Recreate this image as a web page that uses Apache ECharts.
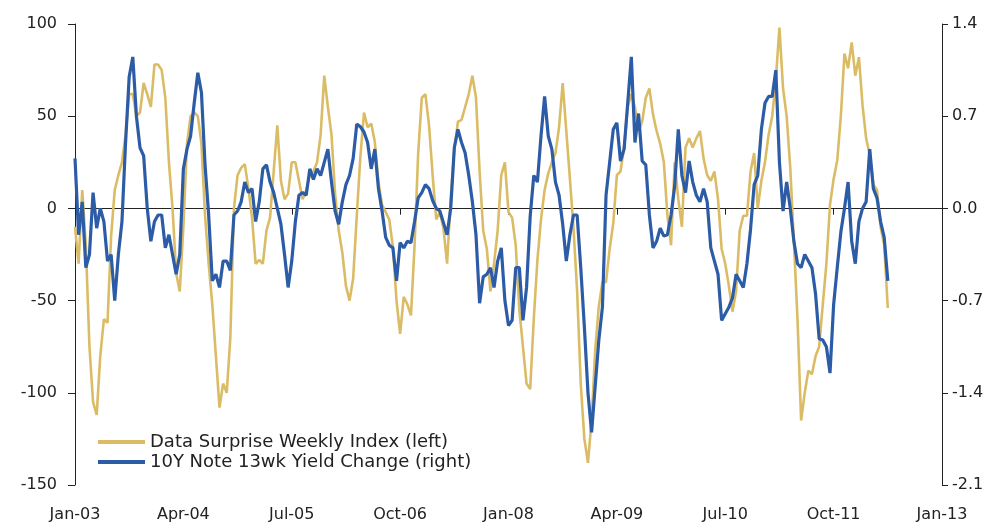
<!DOCTYPE html>
<html>
<head>
<meta charset="utf-8">
<script src="https://cdn.jsdelivr.net/npm/echarts@6/dist/echarts.min.js"></script>
<style>
  html, body { margin: 0; padding: 0; background: #fff; }
  #chart { width: 994px; height: 528px; }
</style>
</head>
<body>
<div id="chart"></div>
<script>
// x axis: months since Jan-03, one reading every half month
var tickLabels = ['Jan-03', 'Apr-04', 'Jul-05', 'Oct-06', 'Jan-08', 'Apr-09', 'Jul-10', 'Oct-11', 'Jan-13'];
var stepMonths = 0.5;

// Data Surprise Weekly Index (left axis)
var surprise = [
  -10, -30, 10, -20, -75, -105, -112, -80, -60, -62, -15, 10,          // 2003
  18, 25, 40, 62, 62, 50, 52, 68, 62, 55, 78, 78,
  75, 60, 25, 0, -35, -45, -10, 35, 50, 52, 50, 35,                    // 2004
  -4, -30, -52, -80, -108, -95, -100, -70, 0, 18, 22, 24,
  11, -5, -30, -28, -30, -12, -5, 20, 45, 15, 5, 8,                    // 2005
  25, 25, 15, 5, 10, 18, 20, 25, 40, 72, 55, 40,
  8, -12, -24, -42, -50, -38, -4, 28, 52, 44, 46, 36,                  // 2006
  14, 2, -2, -6, -21, -50, -68, -48, -52, -58, -20, 30,
  60, 62, 45, 18, -6, -2, -11, -30, 5, 32, 47, 48,                     // 2007
  55, 62, 72, 60, 20, -12, -22, -45, -30, -12, 18, 25,
  -2, -5, -20, -55, -75, -95, -98, -60, -28, -6, 10, 19,               // 2008
  25, 30, 44, 68, 42, 16, -11, -45, -95, -125, -138, -115,
  -77, -53, -40, -40, -22, -8, 18, 20, 33, 55, 62, 55,                 // 2009
  42, 47, 60, 65, 51, 42, 35, 25, -4, -20, 25, 5,
  -10, 33, 38, 33, 38, 42, 27, 18, 15, 20, 5, -22,                     // 2010
  -30, -42, -56, -45, -12, -4, -4, 20, 30, 0, 15, 25,
  40, 50, 70, 98, 65, 50, 22, -18, -60, -115, -100, -88,               // 2011
  -90, -80, -75, -52, -30, 2, 16, 26, 50, 84, 76, 90,
  72, 82, 56, 38, 29, 13, 10, -10, -20, -54                            // 2012
];

// 10Y Note 13wk Yield Change (right axis)
var yieldChange = [
  0.38, -0.2, 0.05, -0.45, -0.35, 0.12, -0.15, 0.0, -0.1, -0.4, -0.35, -0.7,
  -0.35, -0.1, 0.5, 1.0, 1.15, 0.7, 0.46, 0.4, 0.0, -0.25, -0.1, -0.05,
  -0.05, -0.3, -0.2, -0.35, -0.5, -0.35, 0.3, 0.45, 0.55, 0.8, 1.03, 0.88,
  0.33, -0.05, -0.55, -0.5, -0.6, -0.4, -0.4, -0.47, -0.05, -0.02, 0.05, 0.2,
  0.12, 0.15, -0.1, 0.05, 0.3, 0.33, 0.2, 0.12, 0.0, -0.12, -0.35, -0.6,
  -0.4, -0.1, 0.1, 0.12, 0.1, 0.3, 0.22, 0.3, 0.25, 0.35, 0.45, 0.2,
  -0.02, -0.12, 0.05, 0.18, 0.25, 0.38, 0.64, 0.62, 0.58, 0.5, 0.3, 0.45,
  0.15, -0.02, -0.22, -0.28, -0.3, -0.55, -0.26, -0.3, -0.25, -0.26, -0.1, 0.08,
  0.12, 0.18, 0.15, 0.06, 0.0, -0.02, -0.11, -0.2, 0.0, 0.46, 0.6, 0.5,
  0.42, 0.25, 0.05, -0.2, -0.72, -0.52, -0.5, -0.45, -0.6, -0.4, -0.3, -0.7,
  -0.89, -0.85, -0.45, -0.45, -0.85, -0.6, -0.06, 0.25, 0.2, 0.55, 0.85, 0.55,
  0.45, 0.2, 0.1, -0.12, -0.4, -0.2, -0.05, -0.05, -0.45, -0.9, -1.4, -1.7,
  -1.35, -1.0, -0.75, 0.1, 0.35, 0.6, 0.65, 0.36, 0.45, 0.8, 1.15, 0.5,
  0.72, 0.36, 0.33, -0.05, -0.3, -0.25, -0.15, -0.21, -0.2, -0.05, 0.17, 0.6,
  0.25, 0.12, 0.36, 0.2, 0.1, 0.05, 0.15, 0.05, -0.3, -0.4, -0.5, -0.85,
  -0.8, -0.75, -0.68, -0.5, -0.55, -0.6, -0.42, -0.16, 0.18, 0.25, 0.6, 0.8,
  0.85, 0.85, 1.05, 0.35, -0.02, 0.2, 0.0, -0.25, -0.42, -0.45, -0.35, -0.4,
  -0.45, -0.65, -0.99, -1.0, -1.05, -1.25, -0.73, -0.45, -0.18, 0.0, 0.2, -0.25,
  -0.42, -0.1, 0.0, 0.05, 0.45, 0.15, 0.08, -0.1, -0.22, -0.55
];

var leftTicks = { min: -150, max: 100, interval: 50 };
var rightTicks = { min: -2.1, max: 1.4, interval: 0.7 };

function pairs(arr) {
    return arr.map(function (v, i) { return [i * stepMonths, v]; });
}

var font = 'DejaVu Sans';
var ink = '#222';

var chart = echarts.init(document.getElementById('chart'));
var option = {
    backgroundColor: '#fff',
    animation: false,
    grid: { left: 75, right: 52, top: 24, bottom: 43 },
    legend: {
        orient: 'vertical',
        left: 93,
        top: 428,
        itemWidth: 47,
        itemHeight: 4,
        itemGap: 2,
        icon: 'rect',
        textStyle: { fontFamily: font, fontSize: 18, color: ink },
        data: ['Data Surprise Weekly Index (left)', '10Y Note 13wk Yield Change (right)']
    },
    xAxis: [
        {   // labels along the bottom
            type: 'value', min: 0, max: 120, interval: 15, position: 'bottom',
            axisLine: { show: false, onZero: false },
            axisTick: { show: false },
            splitLine: { show: false },
            axisLabel: {
                margin: 22, fontFamily: font, fontSize: 16, color: ink,
                formatter: function (v) { return tickLabels[Math.round(v / 15)]; }
            }
        },
        {   // zero line, ticks below
            type: 'value', min: 0, max: 120, interval: 15, position: 'bottom',
            axisLine: { show: true, onZero: true, onZeroAxisIndex: 0, lineStyle: { color: ink, width: 1 } },
            axisTick: { show: true, inside: false, length: 6, lineStyle: { color: ink } },
            axisLabel: { show: false },
            splitLine: { show: false }
        },
        {   // zero line, ticks above
            type: 'value', min: 0, max: 120, interval: 15, position: 'top',
            axisLine: { show: true, onZero: true, onZeroAxisIndex: 0, lineStyle: { color: ink, width: 1 } },
            axisTick: { show: true, inside: true, length: 6, lineStyle: { color: ink } },
            axisLabel: { show: false },
            splitLine: { show: false }
        }
    ],
    yAxis: [
        {
            type: 'value', position: 'left',
            min: leftTicks.min, max: leftTicks.max, interval: leftTicks.interval,
            axisLine: { show: true, onZero: false, lineStyle: { color: ink, width: 1 } },
            axisTick: { show: true, length: 7, lineStyle: { color: ink } },
            splitLine: { show: false },
            axisLabel: { margin: 18, fontFamily: font, fontSize: 16, color: ink }
        },
        {
            type: 'value', position: 'right',
            min: rightTicks.min, max: rightTicks.max, interval: rightTicks.interval,
            axisLine: { show: true, onZero: false, lineStyle: { color: ink, width: 1 } },
            axisTick: { show: true, length: 6, lineStyle: { color: ink } },
            splitLine: { show: false },
            axisLabel: {
                margin: 10, fontFamily: font, fontSize: 16, color: ink,
                formatter: function (v) { return v.toFixed(1); }
            }
        }
    ],
    series: [
        {
            name: 'Data Surprise Weekly Index (left)',
            type: 'line',
            xAxisIndex: 0, yAxisIndex: 0,
            showSymbol: false,
            color: '#DBBC66',
            lineStyle: { width: 2.6, color: '#DBBC66' },
            data: pairs(surprise)
        },
        {
            name: '10Y Note 13wk Yield Change (right)',
            type: 'line',
            xAxisIndex: 0, yAxisIndex: 1,
            showSymbol: false,
            color: '#2D5CA6',
            lineStyle: { width: 3.2, color: '#2D5CA6' },
            data: pairs(yieldChange)
        }
    ]
};
chart.setOption(option);
</script>
</body>
</html>
